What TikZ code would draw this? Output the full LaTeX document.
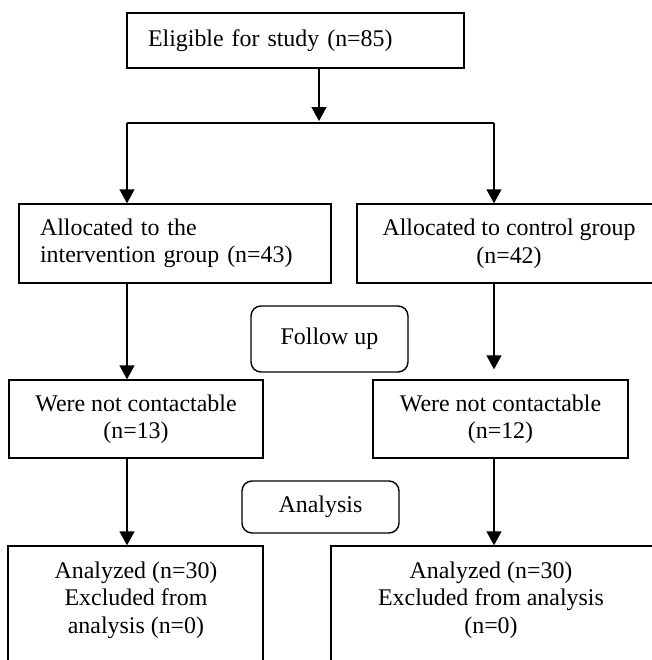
\documentclass[tikz,border=0pt]{standalone}
\usepackage{fontspec}
\setmainfont{Liberation Serif}
\usetikzlibrary{arrows.meta}
\tikzset{
  box/.style={draw,rectangle,inner sep=0bp,font=\fontsize{24}{27.6}\selectfont},
  phase/.style={box,rounded corners=10bp},
  txt/.style={inner sep=0bp,align=center,font=\fontsize{24}{27.6}\selectfont},
}
\begin{document}
\begin{tikzpicture}[>={Triangle[length=14bp,width=15bp]},line width=1.4bp]
\useasboundingbox (0bp,0bp) rectangle (652bp,-660bp);
%%
\node (Elig) at (295.5bp,-40.5bp) [box,minimum width=337bp,minimum height=55bp,text width=295bp,align=left,inner xsep=21bp] {Eligible for study (n=85)};
  \node (AllocI) at (175bp,-243.5bp) [box,minimum height=79bp,text width=270bp,align=left,inner xsep=21bp] {Allocated to the\\intervention group (n=43)};
  \node (AllocC) at (509bp,-243.5bp) [box,minimum width=304bp,minimum height=79bp,align=center] {Allocated to control group\\(n=42)};
  \node (Follow) at (329.5bp,-339bp) [phase,minimum width=157bp,minimum height=66bp] {Follow up};
  \node (LostI) at (136bp,-419bp) [box,minimum width=254bp,minimum height=78bp,align=center] {Were not contactable\\(n=13)};
  \node (LostC) at (500.5bp,-419bp) [box,minimum width=255bp,minimum height=78bp,align=center] {Were not contactable\\(n=12)};
  \node (Anal) at (320.5bp,-507bp) [phase,minimum width=157bp,minimum height=52bp] {Analysis};
  \node (DoneI) at (135.5bp,-620bp) [box,minimum width=255bp,minimum height=148bp] {};
  \node (DoneC) at (496.5bp,-620bp) [box,minimum width=331bp,minimum height=148bp] {};
  \node (DoneItxt) at (136bp,-600bp) [txt] {Analyzed (n=30)\\Excluded from\\analysis (n=0)};
  \node (DoneCtxt) at (491bp,-600bp) [txt] {Analyzed (n=30)\\Excluded from analysis\\(n=0)};
  \coordinate (Split) at (319bp,-123bp);
  \coordinate (BrI) at (127bp,-123bp);
  \coordinate (BrC) at (494bp,-123bp);
  \draw [->,shorten >=2bp] (Elig.south -| Split) -- (Split);
  \draw (BrI) -- (BrC);
  \draw [->] (BrI) -- (AllocI.north -| BrI);
  \draw [->] (BrC) -- (AllocC.north -| BrC);
  \draw [->] (AllocI.south -| BrI) -- (LostI.north -| BrI);
  \draw [->,shorten >=10bp] (AllocC.south -| BrC) -- (LostC.north -| BrC);
  \draw [->] (LostI.south -| BrI) -- (DoneI.north -| BrI);
  \draw [->] (LostC.south -| BrC) -- (DoneC.north -| BrC);
%
\end{tikzpicture}
\end{document}
